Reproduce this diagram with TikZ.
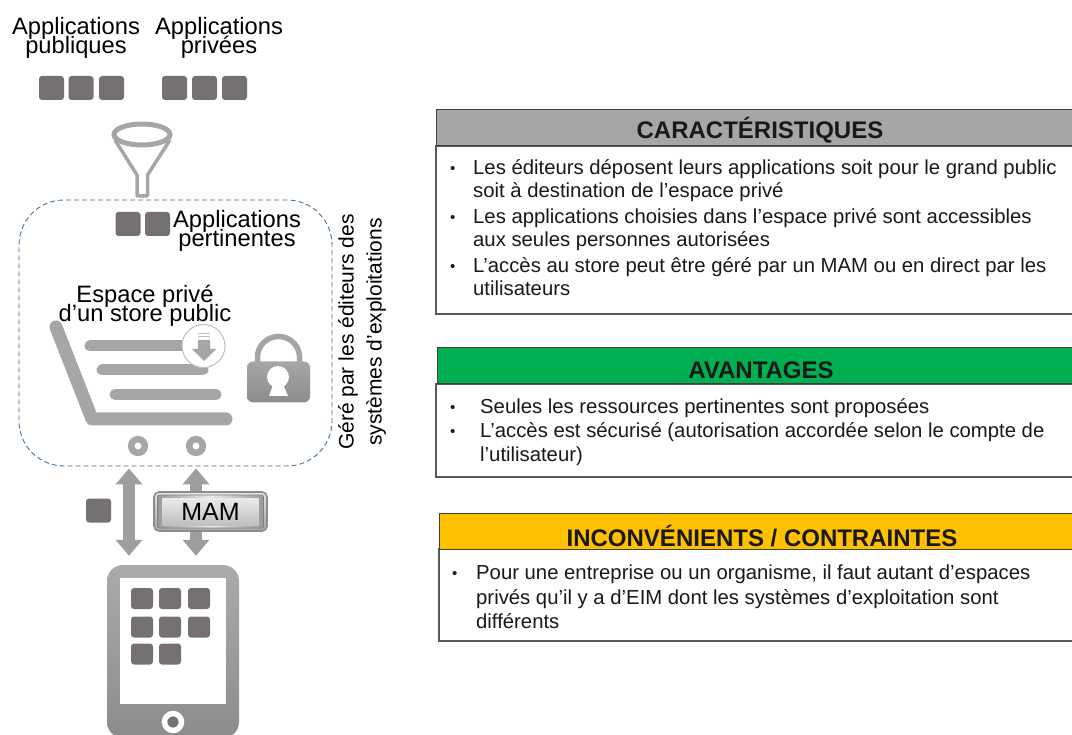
\documentclass[tikz,border=0pt]{standalone}
\usepackage{fontspec}
\setmainfont{Liberation Sans}
\usetikzlibrary{arrows.meta,shapes.geometric}
\definecolor{appgrey}{HTML}{767171}
\definecolor{iconlight}{HTML}{A6A6A6}
\definecolor{icondark}{HTML}{8C8C8C}
\definecolor{dashblue}{HTML}{41719C}
\definecolor{headgrey}{HTML}{A6A6A6}
\definecolor{headgreen}{HTML}{00B050}
\definecolor{headamber}{HTML}{FFC000}
\definecolor{edgegrey}{HTML}{595959}
\tikzset{
  appsq/.style={fill=appgrey,rounded corners=3pt,inner sep=0,minimum width=25pt,minimum height=24pt},
  tabsq/.style={fill=appgrey,rounded corners=3pt,inner sep=0,minimum width=22pt,minimum height=21pt},
  biglabel/.style={font=\fontsize{23.7}{19}\selectfont,execute at begin node={\setlength{\lineskiplimit}{-50pt}},align=center,inner sep=0,text=black},
  sidelabel/.style={font=\fontsize{21}{28}\selectfont,align=center,inner sep=0,rotate=90},
  bodyline/.style={font=\fontsize{20.3}{22}\selectfont,anchor=base west,inner sep=0,text=black!90},
  bulletmark/.style={font=\fontsize{15}{15}\selectfont,anchor=base west,inner sep=0,text=black!90},
  headtext/.style={font=\fontsize{24}{26}\selectfont\bfseries,inner sep=0,text=black!90},
  panelbody/.style={draw=edgegrey,line width=1.2pt,fill=white},
  panelhead/.style={draw=black!75,line width=1pt},
  cartline/.style={draw=iconlight,line cap=round},
  flowarrow/.style={draw=black!38,line width=12.7pt,{Triangle[width=26pt,length=16pt]}-{Triangle[width=26pt,length=16pt]}},
}
\begin{document}
\begin{tikzpicture}[x=1pt,y=-1pt]
\useasboundingbox (0,0) rectangle (1072,735);
% top labels
\node[biglabel] (pub) at (76,38) {Applications\\publiques};
\node[biglabel] (priv) at (219,38) {Applications\\privées};
% public / private app squares
\node[appsq] (a1) at (51.5,88) {};
\node[appsq] (a2) at (81,88) {};
\node[appsq] (a3) at (111.5,88) {};
\node[appsq] (a4) at (174.5,88) {};
\node[appsq] (a5) at (204.5,88) {};
\node[appsq] (a6) at (234.5,88) {};
% funnel
\draw[iconlight,line width=3.5pt,line join=round] (115,140) -- (137,175) -- (137,196) -- (147.5,196) -- (147.5,175) -- (170,140);
\draw[iconlight,line width=5pt,fill=white] (142,134.5) ellipse (28 and 10.5);
% dashed store frame
\node[draw=dashblue,dash pattern=on 5pt off 3pt,line width=0.9pt,rounded corners=45pt,minimum width=313pt,minimum height=266pt,inner sep=0] (store) at (175.5,333) {};
\node[appsq] (p1) at (128,224) {};
\node[appsq] (p2) at (157.5,224) {};
\node[biglabel] (pert) at (237,230.5) {Applications\\pertinentes};
% cart
\draw[cartline,line width=13pt,line join=round] (56,327) -- (92,419) -- (226,419);
\draw[cartline,line width=11pt] (90,346) -- (190,346);
\draw[cartline,line width=11pt] (102,370) -- (203,370);
\draw[cartline,line width=11pt] (115,394.5) -- (216,394.5);
\node[biglabel] (esp) at (145,306) {Espace privé\\d’un store public};
\node[circle,draw=black!25,line width=1pt,fill=white,minimum size=43pt,inner sep=0] (dl) at (203.5,346) {};
\fill[iconlight] (198,340) -- (210,340) -- (210,349) -- (216,349) -- (204,361) -- (192,349) -- (198,349) -- cycle;
\fill[iconlight!70] (198,336) rectangle (210,337.5);
\fill[iconlight!70] (198,333.5) rectangle (210,334.5);
\draw[iconlight,line width=6.5pt] (138,446) circle (6.8);
\draw[iconlight,line width=6.5pt] (196,446) circle (6.8);
% lock
\draw[iconlight,line width=5.5pt] (257.5,365) -- (257.5,357) arc[start angle=180,end angle=360,x radius=21,y radius=20.5] -- (299.5,365);
\node[rounded corners=6pt,top color=iconlight,bottom color=icondark,minimum width=63pt,minimum height=41pt,inner sep=0] (lock) at (278.5,382) {};
\fill[white] (278,377) circle (11);
\fill[white] (274,382) -- (282,382) -- (288,396) -- (269,396) -- cycle;
% side label
\node[sidelabel] (side) at (362,332) {Géré par les éditeurs des\\systèmes d’exploitations};
% tablet
\node[rounded corners=16pt,top color=iconlight!95,bottom color=icondark,minimum width=132pt,minimum height=173pt,inner sep=0] (tablet) at (173,651.5) {};
\node[fill=white,minimum width=106pt,minimum height=126pt,inner sep=0] (screen) at (173,641) {};
\node[tabsq] (t1) at (142,598.5) {};
\node[tabsq] (t2) at (170,598.5) {};
\node[tabsq] (t3) at (199,598.5) {};
\node[tabsq] (t4) at (142,627) {};
\node[tabsq] (t5) at (170,627) {};
\node[tabsq] (t6) at (199,627) {};
\node[tabsq] (t7) at (142,654) {};
\node[tabsq] (t8) at (170,654) {};
\node[circle,draw=white,line width=5.5pt,fill=appgrey,minimum size=17pt,inner sep=0] (home) at (173,722) {};
% connectors
\draw[flowarrow,shorten >=9pt,shorten <=2pt] (store.south -| 129,0) -- (tablet.north -| 129,0);
\draw[flowarrow,shorten >=9pt,shorten <=2pt] (store.south -| 196,0) -- (tablet.north -| 196,0);
\node[appsq] (single) at (98.5,510.5) {};
% MAM button
\node[draw=black!45,line width=1.6pt,rounded corners=5pt,top color=black!10,bottom color=black!35,minimum width=113pt,minimum height=39pt,inner sep=0] (mamo) at (210.5,511.5) {};
\node[draw=black!50,line width=0.8pt,rounded corners=2pt,left color=black!40,right color=black!40,middle color=black!8,minimum width=106pt,minimum height=33pt,inner sep=0] (mami) at (210.5,511.5) {};
\node[top color=black!8,bottom color=black!25,minimum width=96pt,minimum height=27pt,inner sep=0,font=\fontsize{25}{25}\selectfont,text=black] (mam) at (210.5,511.5) {MAM};
% panel 1
\draw[panelbody] (436,146) rectangle (1080,314);
\node[panelhead,fill=headgrey,minimum width=644pt,minimum height=36pt,inner sep=0] (h1) at (758,128) {};
\node[headtext] (h1t) at (760,130) {CARACTÉRISTIQUES};
\node[bulletmark] (b1) at (450,174) {•};
\node[bodyline] (l1) at (473,175) {Les éditeurs déposent leurs applications soit pour le grand public};
\node[bodyline] (l2) at (473,198) {soit à destination de l’espace privé};
\node[bulletmark] (b2) at (450,223) {•};
\node[bodyline] (l3) at (473,224) {Les applications choisies dans l’espace privé sont accessibles};
\node[bodyline] (l4) at (473,247) {aux seules personnes autorisées};
\node[bulletmark] (b3) at (450,272) {•};
\node[bodyline] (l5) at (473,273) {L’accès au store peut être géré par un MAM ou en direct par les};
\node[bodyline] (l6) at (473,296) {utilisateurs};
% panel 2
\draw[panelbody] (436,384) rectangle (1080,477);
\node[panelhead,fill=headgreen,minimum width=642pt,minimum height=36pt,inner sep=0] (h2) at (758,366) {};
\node[headtext] (h2t) at (761,370) {AVANTAGES};
\node[bulletmark] (b4) at (450,413) {•};
\node[bodyline] (l7) at (480,414) {Seules les ressources pertinentes sont proposées};
\node[bulletmark] (b5) at (450,437) {•};
\node[bodyline] (l8) at (480,438) {L’accès est sécurisé (autorisation accordée selon le compte de};
\node[bodyline] (l9) at (480,462) {l’utilisateur)};
% panel 3
\draw[panelbody] (439,549) rectangle (1080,641);
\node[panelhead,fill=headamber,minimum width=641pt,minimum height=36pt,inner sep=0] (h3) at (759.5,531) {};
\node[headtext] (h3t) at (762,536) {INCONVÉNIENTS / CONTRAINTES};
\node[bulletmark] (b6) at (452,578) {•};
\node[bodyline] (l10) at (476,579) {Pour une entreprise ou un organisme, il faut autant d’espaces};
\node[bodyline] (l11) at (476,604) {privés qu’il y a d’EIM dont les systèmes d’exploitation sont};
\node[bodyline] (l12) at (476,628) {différents};
\end{tikzpicture}
\end{document}
